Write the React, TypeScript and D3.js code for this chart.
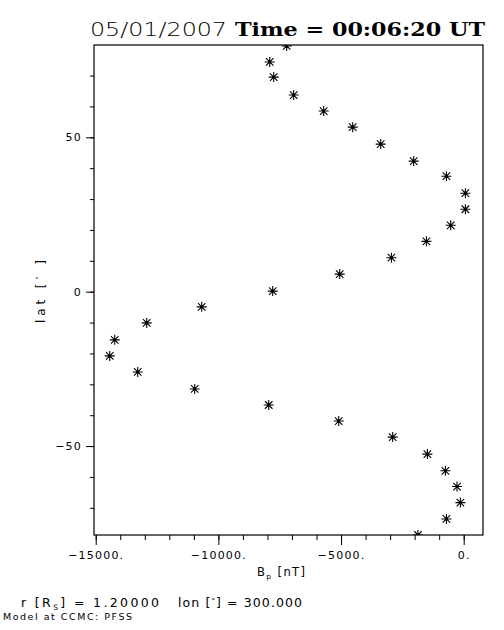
import React, { useEffect, useRef } from 'react';
import * as d3 from 'd3';

// B_p [nT], one per latitude
const bpValues = [
  -7215, -7907, -7744, -6929, -5706, -4524, -3383, -2038, -705, 69, 69,
  -530, -1520, -2947, -5054, -7785, -10679, -12921, -14225, -14429, -13288,
  -10964, -7948, -5095, -2894, -1480, -746, -273, -135, -705, -1863,
];
const latValues = [
  79.6, 74.4, 69.5, 63.7, 58.5, 53.3, 47.8, 42.3, 37.4, 31.9, 26.7,
  21.5, 16.3, 11.0, 5.7, 0.2, -4.9, -10.1, -15.6, -20.8, -26.0,
  -31.5, -36.7, -41.9, -47.1, -52.6, -58.0, -63.1, -68.3, -73.6, -78.8,
];

const xDomain = [-15070, 787];
const yDomain = [-78.8, 79.9];
const xMajorTicks = [-15000, -10000, -5000, 0];
const xMinorTicks = d3.range(-15000, 1, 1000);
const yMajorTicks = [-50, 0, 50];
const yMinorTicks = d3.range(-70, 80, 10);

const titleDate = '05/01/2007';
const titleTime = 'Time = 00:06:20 UT';

const sans = "'DejaVu Sans', sans-serif";

const drawChart = (container: SVGSVGElement) => {
  d3.select(container).selectAll('*').remove();

  const margin = { top: 45, right: 21, bottom: 95, left: 94 };
  const width = 504 - margin.left - margin.right;
  const height = 630 - margin.top - margin.bottom;

  const svg = d3.select(container).attr('width', 504).attr('height', 630);
  svg.append('rect').attr('width', 504).attr('height', 630).attr('fill', '#fff');

  const chart = svg.append('g').attr('transform', `translate(${margin.left},${margin.top})`);

  const x = d3.scaleLinear().domain(xDomain).range([0, width]);
  const y = d3.scaleLinear().domain(yDomain).range([height, 0]);

  svg.append('defs').append('clipPath').attr('id', 'plot-clip')
    .append('rect').attr('width', width).attr('height', height);

  // minor ticks
  const xMinor = chart.append('g').attr('transform', `translate(0,${height})`)
    .call(d3.axisBottom(x).tickValues(xMinorTicks).tickSize(5).tickSizeOuter(0).tickFormat(() => ''));
  xMinor.select('.domain').remove();
  const yMinor = chart.append('g')
    .call(d3.axisLeft(y).tickValues(yMinorTicks).tickSize(4).tickSizeOuter(0).tickFormat(() => ''));
  yMinor.select('.domain').remove();

  // major ticks
  const xAxis = chart.append('g').attr('transform', `translate(0,${height})`)
    .call(d3.axisBottom(x).tickValues(xMajorTicks).tickSize(10).tickSizeOuter(0)
      .tickFormat(d => `${d3.format('')(d as number)}.`));
  xAxis.select('.domain').remove();
  xAxis.selectAll('text')
    .attr('y', 16).attr('dy', '0.71em')
    .style('font-family', sans).style('font-size', '11px').style('letter-spacing', '1.2px');

  const yAxis = chart.append('g')
    .call(d3.axisLeft(y).tickValues(yMajorTicks).tickSize(8).tickSizeOuter(0)
      .tickFormat(d => d3.format('')(d as number)));
  yAxis.select('.domain').remove();
  yAxis.selectAll('text')
    .attr('x', -12)
    .style('font-family', sans).style('font-size', '11px').style('letter-spacing', '1.2px');

  chart.selectAll('.tick line').attr('stroke', '#000');

  // frame
  chart.append('rect')
    .attr('width', width).attr('height', height)
    .attr('fill', 'none').attr('stroke', '#000').attr('stroke-width', 1.2);

  // asterisk markers
  const r = 5;
  const d = r * 0.75;
  const points = chart.append('g').attr('clip-path', 'url(#plot-clip)')
    .selectAll('g.star')
    .data(bpValues.map((v, i) => ({ bp: v, lat: latValues[i] })))
    .enter().append('g')
    .attr('class', 'star')
    .attr('transform', p => `translate(${x(p.bp)},${y(p.lat)})`);
  points.append('path')
    .attr('d', `M${-r},0H${r}M0,${-r}V${r}M${-d},${-d}L${d},${d}M${-d},${d}L${d},${-d}`)
    .attr('stroke', '#000').attr('stroke-width', 1.1).attr('fill', 'none');
  points.append('circle').attr('r', 1.5).attr('fill', '#000');

  // title
  svg.append('text')
    .attr('x', 90).attr('y', 36)
    .attr('textLength', 137).attr('lengthAdjust', 'spacingAndGlyphs')
    .style('font-family', sans).style('font-size', '19px').style('font-weight', 200)
    .text(titleDate);
  svg.append('text')
    .attr('x', 235).attr('y', 36)
    .attr('textLength', 250).attr('lengthAdjust', 'spacingAndGlyphs')
    .style('font-family', "'DejaVu Serif', serif").style('font-size', '18px').style('font-weight', 'bold')
    .text(titleTime);

  // x label
  const xl = svg.append('text')
    .attr('x', 257).attr('y', 576)
    .attr('textLength', 48)
    .style('font-family', sans).style('font-size', '11.5px');
  xl.append('tspan').text('B');
  xl.append('tspan').attr('dy', 3).style('font-size', '7.5px').text('p');
  xl.append('tspan').attr('dy', -3).text(' [nT]');

  // y label
  const yl = svg.append('text')
    .attr('transform', 'translate(45,323) rotate(-90)')
    .attr('textLength', 63)
    .style('font-family', sans).style('font-size', '12px');
  yl.append('tspan').text('lat   [');
  yl.append('tspan').attr('dy', -4).style('font-size', '7px').text('°');
  yl.append('tspan').attr('dy', 4).text(' ]');

  // footer
  const f1 = svg.append('text')
    .attr('x', 21).attr('y', 607)
    .attr('textLength', 138)
    .style('font-family', sans).style('font-size', '12.5px');
  f1.append('tspan').text('r [R');
  f1.append('tspan').attr('dy', 3).style('font-size', '7.5px').text('S');
  f1.append('tspan').attr('dy', -3).text('] = 1.20000');

  const f2 = svg.append('text')
    .attr('x', 178).attr('y', 607)
    .attr('textLength', 124)
    .style('font-family', sans).style('font-size', '12.5px');
  f2.append('tspan').text('lon [');
  f2.append('tspan').attr('dy', -4).style('font-size', '7px').text('°');
  f2.append('tspan').attr('dy', 4).text('] = 300.000');

  svg.append('text')
    .attr('x', 3).attr('y', 620)
    .attr('textLength', 129)
    .style('font-family', sans).style('font-size', '9.5px')
    .text('Model at CCMC: PFSS');
};

const App = () => {
  const ref = useRef<SVGSVGElement>(null);

  useEffect(() => {
    if (ref.current) {
      drawChart(ref.current);
    }
  }, []);

  return (
    <div style={{ position: 'absolute', left: 0, top: 0 }}>
      <svg ref={ref} style={{ display: 'block' }} />
    </div>
  );
};

export default App;
